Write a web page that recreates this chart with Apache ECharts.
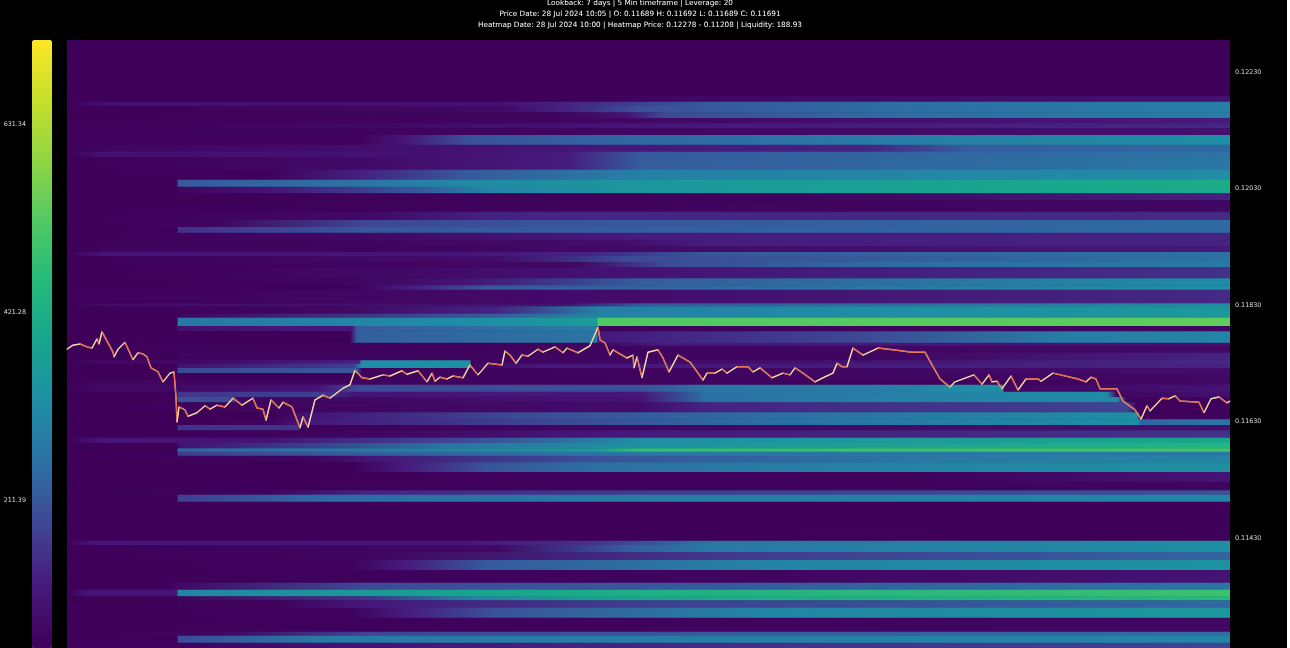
<!DOCTYPE html>
<html><head><meta charset="utf-8">
<style>html,body{margin:0;padding:0;background:#000;overflow:hidden}
#c{position:absolute;left:0;top:0;width:1290px;height:648px;filter:blur(0.7px)}
#r{position:absolute;left:1287px;top:0;width:3px;height:648px;background:#fff}</style>
<script src="https://cdn.jsdelivr.net/npm/echarts@6/dist/echarts.min.js"></script>
</head><body><div id="c"></div><div id="r"></div>
<script>
const titleLines = [
  'Lookback: 7 days | 5 Min timeframe | Leverage: 20',
  'Price Date: 28 Jul 2024 10:05 | O: 0.11689 H: 0.11692 L: 0.11689 C: 0.11691',
  'Heatmap Date: 28 Jul 2024 10:00 | Heatmap Price: 0.12278 - 0.11208 | Liquidity: 188.93'
];
const priceTicks = [0.1223, 0.1203, 0.1183, 0.1163, 0.1143];
const liquidityTicks = [211.39, 421.28, 631.34];
const liquidityColors = ['#3e0059','#47187c','#3f4594','#2d6ea4','#1f8da6','#17a48f','#23b97c','#50c964','#8fd544','#c5df2c','#fde725'];
const liquidityMin = 46, liquidityMax = 726, priceMin = 0.11241, priceMax = 0.12285, barMax = 1163;

// Price boundaries of the heat rows, high to low
const rowEdges = [.12285,.12189,.12179,.12172,.12161,.12151,.12142,.12134,.12122,.12105,.12093,.12084,.12062,.12045,.12033,.12022,.12010,.11990,.11976,.11964,.11954,.11942,.11931,.11921,.11914,.11904,.11895,.11876,.11864,.11856,.11833,.11828,.11815,.11808,.11794,.11785,.11765,.11760,.11748,.11735,.11729,.11722,.11713,.11701,.11693,.11681,.11672,.11663,.11646,.11634,.11624,.11615,.11602,.11593,.11584,.11578,.11571,.11560,.11543,.11526,.11512,.11504,.11492,.11425,.11418,.11406,.11392,.11375,.11353,.11341,.11330,.11323,.11310,.11293,.11269,.11262,.11250,.11241];
// Liquidity along each row as [bar, value] stops
const rowLiquidity = [
 [[0,46],[1163,46]],
 [[0,46],[500,46],[640,70],[1163,90]],
 [[0,46],[40,95],[430,95],[500,130],[640,215],[833,255],[1163,285]],
 [[0,46],[430,70],[500,130],[573,200],[833,250],[1163,285]],
 [[0,46],[500,60],[560,100],[600,190],[833,250],[1163,285]],
 [[0,50],[500,60],[1163,115]],
 [[0,50],[300,70],[600,110],[1163,135]],
 [[0,50],[500,60],[1163,90]],
 [[0,50],[290,50],[340,110],[400,200],[573,240],[833,280],[1163,325]],
 [[0,50],[40,60],[573,110],[800,130],[900,220],[1163,240]],
 [[0,46],[35,95],[400,95],[500,120],[573,215],[1163,260]],
 [[0,46],[300,75],[500,120],[573,220],[1163,270]],
 [[0,46],[200,50],[300,130],[400,215],[573,290],[1163,315]],
 [[0,46],[110,46],[111,215],[300,265],[400,310],[573,345],[900,385],[1163,415]],
 [[0,46],[110,46],[111,60],[200,100],[350,215],[420,300],[573,345],[900,385],[1163,405]],
 [[0,46],[700,50],[1163,125]],
 [[0,46],[1163,65]],
 [[0,46],[300,70],[430,130],[1163,140]],
 [[0,46],[150,60],[300,185],[573,215],[1163,245]],
 [[0,46],[110,46],[111,150],[300,215],[1163,245]],
 [[0,46],[300,70],[573,120],[1163,130]],
 [[0,46],[300,60],[550,80],[640,120],[1163,130]],
 [[0,46],[40,60],[300,55],[1163,115]],
 [[0,46],[35,105],[400,105],[520,130],[640,215],[1163,260]],
 [[0,46],[430,80],[560,190],[1163,260]],
 [[0,46],[510,70],[600,190],[833,250],[1163,275]],
 [[0,46],[200,60],[600,100],[1163,150]],
 [[0,46],[280,60],[400,100],[573,220],[1163,315]],
 [[0,46],[285,50],[340,120],[420,210],[833,275],[1163,325]],
 [[0,50],[573,80],[1163,140]],
 [[0,46],[40,80],[500,95],[573,210],[1163,320]],
 [[0,46],[270,65],[430,130],[530,285],[833,320],[1163,350]],
 [[0,46],[110,46],[111,60],[400,205],[530,295],[1163,350]],
 [[0,46],[110,46],[111,270],[400,320],[530,365],[531,520],[833,530],[1163,540]],
 [[0,46],[110,46],[111,90],[285,110],[290,220],[530,280],[531,50],[1163,60]],
 [[0,46],[283,46],[290,225],[530,265],[531,110],[800,190],[1000,285],[1163,300]],
 [[0,50],[531,60],[600,120],[1163,90]],
 [[0,48],[1163,70]],
 [[0,48],[110,48],[111,60],[800,60],[1163,130]],
 [[0,46],[30,70],[110,70],[111,60],[293,130],[294,315],[403,330],[404,60],[520,60],[1163,140]],
 [[0,46],[110,46],[111,90],[287,170],[294,315],[403,330],[404,60],[470,110],[573,110],[1163,130]],
 [[0,46],[110,46],[111,190],[290,210],[295,50],[1163,80]],
 [[0,46],[700,60],[1163,70]],
 [[0,46],[30,60],[700,55],[883,50],[1163,70]],
 [[0,46],[25,70],[110,70],[250,100],[293,190],[573,200],[640,265],[833,285],[881,315],[936,315],[937,60],[1163,100]],
 [[0,46],[110,46],[111,160],[250,170],[290,100],[573,110],[640,255],[833,285],[1040,320],[1050,60],[1163,90]],
 [[0,46],[110,46],[111,200],[165,190],[170,60],[573,100],[640,255],[833,295],[1050,310],[1060,55],[1163,55]],
 [[0,46],[573,80],[640,130],[1000,170],[1060,180],[1070,50],[1163,50]],
 [[0,46],[207,46],[240,100],[450,190],[700,255],[1070,320],[1073,50],[1163,50]],
 [[0,46],[110,46],[207,60],[240,110],[500,190],[700,255],[1072,325],[1073,235],[1163,275]],
 [[0,46],[110,46],[111,155],[230,155],[235,50],[1163,90]],
 [[0,46],[300,60],[530,110],[1163,155]],
 [[0,46],[35,105],[200,100],[400,190],[573,320],[1163,400]],
 [[0,46],[110,46],[111,90],[380,260],[573,330],[1163,445]],
 [[0,46],[110,46],[111,235],[300,270],[530,360],[570,470],[1163,500]],
 [[0,46],[110,46],[111,170],[300,225],[530,265],[1163,275]],
 [[0,46],[250,60],[300,100],[530,200],[833,265],[1163,295]],
 [[0,46],[285,46],[340,120],[420,205],[530,255],[833,295],[1163,330]],
 [[0,46],[833,50],[1163,100]],
 [[0,46],[1163,60]],
 [[0,46],[200,60],[300,130],[600,170],[1163,200]],
 [[0,46],[110,46],[111,170],[250,245],[600,280],[1163,300]],
 [[0,46],[1163,46]],
 [[0,46],[30,110],[400,110],[520,150],[640,265],[1163,325]],
 [[0,46],[430,70],[560,220],[640,275],[1163,325]],
 [[0,46],[300,60],[640,160],[1163,235]],
 [[0,46],[280,50],[340,120],[420,215],[700,295],[1163,335]],
 [[0,46],[700,60],[1163,100]],
 [[0,46],[100,46],[111,70],[300,190],[573,210],[1163,265]],
 [[0,46],[20,100],[110,100],[111,300],[400,385],[600,425],[1163,490]],
 [[0,46],[110,46],[111,60],[300,150],[400,290],[530,385],[700,420],[1163,460]],
 [[0,46],[200,50],[300,110],[573,170],[1163,240]],
 [[0,46],[280,50],[340,120],[430,205],[700,300],[1163,350]],
 [[0,46],[1163,65]],
 [[0,46],[150,60],[300,180],[700,220],[1163,250]],
 [[0,46],[110,46],[111,190],[250,275],[1163,300]],
 [[0,50],[110,50],[111,55],[300,100],[700,150],[1163,180]]
];
const priceBars = [0,6,13,20,25,30,32,35,41,46,47,51,58,66,71,76,80,84,91,96,103,107,109,110,112,118,121,130,138,143,150,158,166,175,186,190,196,199,204,212,216,225,233,236,241,248,256,263,276,283,288,295,303,316,323,335,340,351,360,365,368,373,380,386,396,403,411,421,435,438,443,449,455,461,471,476,488,496,500,511,523,531,533,538,543,546,560,566,567,570,575,581,591,596,602,611,623,636,640,648,655,660,670,681,686,693,705,716,723,728,736,748,756,766,770,775,780,786,796,811,826,845,858,866,873,883,888,907,915,922,925,930,935,944,951,959,971,974,986,1011,1019,1024,1029,1033,1050,1056,1068,1074,1080,1083,1095,1102,1108,1113,1132,1137,1144,1152,1160,1163];
const priceValues = [.11754,.11761,.11763,.11758,.11756,.11772,.11763,.11784,.11765,.11749,.11741,.11754,.11766,.11736,.11748,.11746,.11741,.11722,.11715,.11698,.11713,.11715,.11672,.11629,.11655,.11650,.11639,.11645,.11657,.11651,.11658,.11655,.11670,.11658,.11670,.11653,.11651,.11632,.11667,.11653,.11663,.11655,.11619,.11638,.11620,.11667,.11675,.11670,.11687,.11693,.11718,.11705,.11703,.11710,.11708,.11717,.11711,.11717,.11698,.11713,.11699,.11706,.11703,.11708,.11705,.11727,.11710,.11730,.11727,.11751,.11744,.11730,.11744,.11742,.11754,.11749,.11758,.11748,.11756,.11748,.11760,.11792,.11770,.11765,.11744,.11753,.11739,.11744,.11722,.11741,.11705,.11749,.11753,.11739,.11715,.11744,.11732,.11701,.11713,.11713,.11720,.11713,.11724,.11724,.11715,.11722,.11705,.11713,.11710,.11722,.11713,.11698,.11705,.11713,.11730,.11724,.11724,.11756,.11744,.11756,.11753,.11749,.11749,.11724,.11703,.11689,.11698,.11710,.11694,.11710,.11698,.11699,.11686,.11708,.11684,.11703,.11703,.11699,.11713,.11703,.11698,.11706,.11703,.11686,.11686,.11665,.11650,.11634,.11657,.11648,.11670,.11669,.11674,.11665,.11663,.11645,.11669,.11672,.11662,.11665];

function hexRgb(h){return [1,3,5].map(i=>parseInt(h.substr(i,2),16));}
function colorOf(v){
  const t=Math.max(0,Math.min(1,(v-liquidityMin)/(liquidityMax-liquidityMin)))*(liquidityColors.length-1);
  const i=Math.min(liquidityColors.length-2,Math.floor(t)),f=t-i;
  const a=hexRgb(liquidityColors[i]),b=hexRgb(liquidityColors[i+1]);
  return 'rgb('+a.map((c,k)=>Math.round(c+(b[k]-c)*f)).join(',')+')';
}
const chart = echarts.init(document.getElementById('c'), null, {renderer:'canvas', width:1290, height:648});
const txt = {color:'#fff', fontSize:7.3, fontFamily:'DejaVu Sans', fontWeight:'normal'};
chart.setOption({
  animation:false,
  backgroundColor:'#000',
  title:titleLines.map((t,i)=>({text:t,left:640,textAlign:'center',top:[0,11,22][i],padding:0,textStyle:txt})),
  grid:[
    {left:67,right:60,top:40,bottom:0,containLabel:false},
    {left:32,width:20,top:40,bottom:0}
  ],
  xAxis:[
    {type:'value',gridIndex:0,min:0,max:barMax,show:false},
    {type:'value',gridIndex:1,min:0,max:1,show:false}
  ],
  yAxis:[
    {type:'value',gridIndex:0,min:priceMin,max:priceMax,position:'right',splitLine:{show:false},axisLine:{show:false},axisTick:{show:false},
     axisLabel:{customValues:priceTicks,formatter:v=>v.toFixed(5),color:'#ddd',fontSize:6.4,fontFamily:'DejaVu Sans',margin:5}},
    {type:'value',gridIndex:1,min:liquidityMin,max:liquidityMax,position:'left',splitLine:{show:false},axisLine:{show:false},axisTick:{show:false},
     axisLabel:{customValues:liquidityTicks,formatter:v=>v.toFixed(2),color:'#ddd',fontSize:6.4,fontFamily:'DejaVu Sans',margin:6}}
  ],
  visualMap:{type:'continuous',min:liquidityMin,max:liquidityMax,seriesIndex:0,dimension:3,left:32,top:40,itemWidth:20,itemHeight:608,padding:0,
    text:['',''],calculable:false,hoverLink:false,showLabel:false,inRange:{color:liquidityColors}},
  series:[
    {type:'custom',xAxisIndex:0,yAxisIndex:0,silent:true,clip:true,
     data:rowLiquidity.map((r,i)=>[barMax,rowEdges[i],rowEdges[i+1],r[r.length-1][1]]),
     encode:{x:0,y:[1,2]},
     renderItem(params,api){
       const i=params.dataIndex, stops=rowLiquidity[i];
       const a=api.coord([0,rowEdges[i]]), b=api.coord([barMax,rowEdges[i+1]]);
       return {type:'rect',shape:{x:a[0],y:a[1],width:b[0]-a[0],height:b[1]-a[1]+0.6},
         style:{fill:new echarts.graphic.LinearGradient(0,0,1,0,stops.map(s=>({offset:s[0]/barMax,color:colorOf(s[1])})))}};
     }},
    {type:'line',xAxisIndex:0,yAxisIndex:0,silent:true,showSymbol:false,z:3,
     data:priceBars.map((b,i)=>[b,priceValues[i]]),lineStyle:{color:'#efb074',width:1.5}},
    {type:'custom',xAxisIndex:0,yAxisIndex:0,silent:true,z:4,
     data:priceBars.map((b,i)=>[b,priceValues[i]]),encode:{x:0,y:1},
     renderItem(params,api){
       const i=params.dataIndex; if(i===0) return null;
       const p=api.coord([priceBars[i-1],priceValues[i-1]]), q=api.coord([priceBars[i],priceValues[i]]);
       const up=priceValues[i]>priceValues[i-1];
       return {type:'line',shape:{x1:p[0],y1:p[1],x2:q[0],y2:q[1]},style:{stroke:up?'#dde6c4':'#e8604a',lineWidth:1,lineCap:'round'}};
     }}
  ]
});
</script></body></html>
